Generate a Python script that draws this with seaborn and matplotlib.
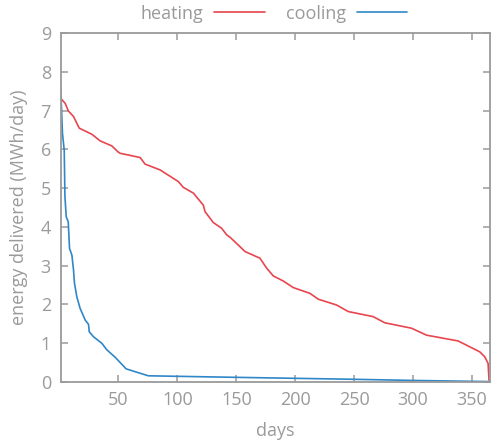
import matplotlib
matplotlib.use("Agg")
import matplotlib.pyplot as plt
import seaborn as sns
import pandas as pd

heat_days = [1, 4.8, 7.6, 11.9, 16.7, 27.5, 34.5, 44.4, 49.5, 51.4, 68.4, 72.6, 85.3,
             100.8, 105, 113.6, 122, 123.5, 130.5, 137.6, 141.9, 144.7, 153, 157.4, 170,
             175.8, 181.4, 189.8, 198.3, 212.5, 219.5, 235, 245, 266, 276, 298.6, 311.4,
             338.2, 348, 356.5, 360.8, 363.6, 364.4, 365]
heat_vals = [7.32, 7.19, 6.99, 6.85, 6.55, 6.39, 6.22, 6.09, 5.94, 5.90, 5.79, 5.62, 5.47,
             5.17, 5.02, 4.87, 4.56, 4.39, 4.11, 3.96, 3.79, 3.73, 3.49, 3.36, 3.19,
             2.93, 2.73, 2.60, 2.43, 2.28, 2.13, 1.98, 1.81, 1.68, 1.52, 1.38, 1.20,
             1.05, 0.90, 0.77, 0.64, 0.47, 0.04, 0.0]

cool_days = [1, 2.5, 4.0, 4.6, 5.7, 7.4, 8.5, 10.5, 11.9, 12.7, 14.7, 17.5, 21.8, 24.6, 25.2,
             28.8, 35.9, 40.2, 47.2, 56.5, 62.7, 75.4, 150, 249, 300, 365]
cool_vals = [7.62, 6.42, 5.98, 4.78, 4.26, 4.13, 3.44, 3.27, 2.88, 2.54, 2.19, 1.89, 1.59, 1.48, 1.29,
             1.16, 0.99, 0.82, 0.63, 0.33, 0.27, 0.15, 0.11, 0.06, 0.03, 0.0]

x_ticks = [50, 100, 150, 200, 250, 300, 350]
y_ticks = [0, 1, 2, 3, 4, 5, 6, 7, 8, 9]

sns.set_theme(style="white")
plt.rcParams['font.family'] = ['Open Sans', 'DejaVu Sans']
grey = '#9a9a9a'
red = '#e8454e'
blue = '#2f87c8'
fs = 13

fig = plt.figure(figsize=(4.91, 4.47), dpi=100)
ax = fig.add_axes([0.1236, 0.1463, 0.8738, 0.7792])

sns.lineplot(x=heat_days, y=heat_vals, sort=False, color=red, lw=1.2, label='heating', ax=ax)
sns.lineplot(x=cool_days, y=cool_vals, sort=False, color=blue, lw=1.2, label='cooling', ax=ax)

ax.set_xlim(1, 365)
ax.set_ylim(0, 9)
ax.set_xticks(x_ticks)
ax.set_yticks(y_ticks)
ax.tick_params(direction='in', length=5, width=1.1, color=grey, labelcolor=grey,
               labelsize=fs, top=True, right=True, bottom=True, left=True, pad=7)
for s in ax.spines.values():
    s.set_visible(True)
    s.set_color(grey)
    s.set_linewidth(1.3)
ax.set_xlabel('days', color=grey, fontsize=fs, labelpad=9)
ax.set_ylabel('energy delivered (MWh/day)', color=grey, fontsize=fs, labelpad=9)

leg = ax.legend(loc='lower center', bbox_to_anchor=(0.497, 1.025), ncol=2, frameon=False,
                markerfirst=False, handlelength=2.8, columnspacing=1.15, handletextpad=0.6,
                fontsize=fs, borderaxespad=0.0, borderpad=0.1)
for t in leg.get_texts():
    t.set_color(grey)

fig.savefig('out.png', dpi=100)
